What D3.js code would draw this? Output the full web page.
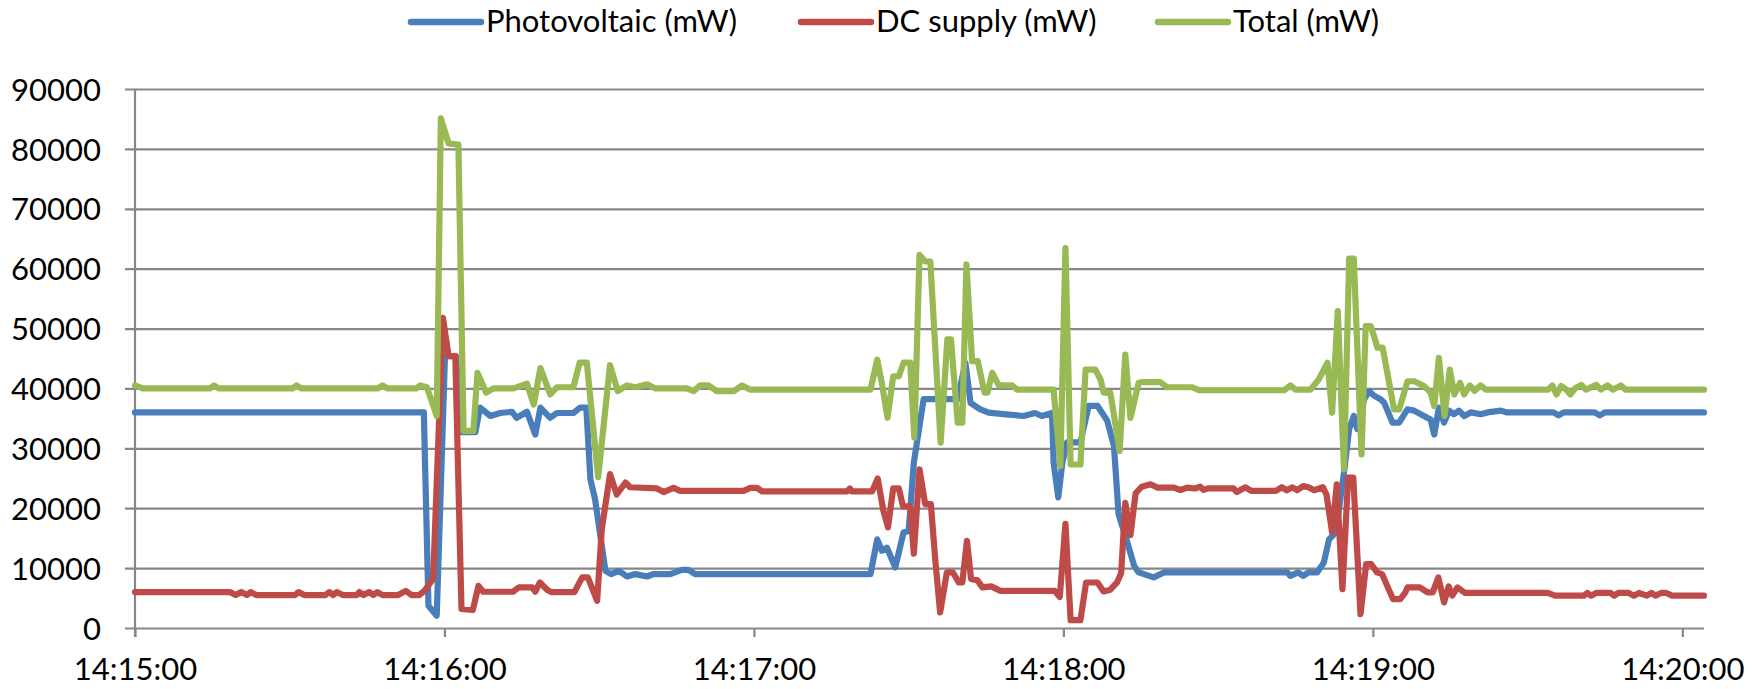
<!DOCTYPE html>
<html>
<head>
<meta charset="utf-8">
<script src="https://cdn.jsdelivr.net/npm/d3@7/dist/d3.min.js"></script>
<style>
  html, body { margin: 0; padding: 0; background: #fff; }
  svg { display: block; }
  text { font-family: Lato, "Open Sans", sans-serif; fill: #000; }
</style>
</head>
<body>
<svg id="chart" width="1764" height="689"></svg>
<script>
// ---- DATA (time in seconds after 14:15:00, value in mW) ----
const seriesNames = ["Photovoltaic (mW)", "DC supply (mW)", "Total (mW)"];
const seriesColors = ["#4a7ebb", "#be4b48", "#98b954"];
const xTickLabels = ["14:15:00", "14:16:00", "14:17:00", "14:18:00", "14:19:00", "14:20:00"];
const yTickValues = [0, 10000, 20000, 30000, 40000, 50000, 60000, 70000, 80000, 90000];
const timeEnd = 304.2;

const photovoltaic = [[0,36000],[56.0,36000],[56.9,3700],[58.5,2050],[60.1,45400],[62.2,45400],[63.4,32700],[66.0,32700],[66.9,36800],[68.9,35400],[70.8,35900],[73.1,36100],[74.0,35100],[76.0,36100],[77.6,32300],[78.6,36800],[80.5,35100],[81.8,35900],[85.0,35900],[86.3,36800],[87.5,36800],[88.3,24800],[89.2,21500],[91.2,9550],[92.3,9000],[93.8,9550],[95.4,8600],[97.0,9000],[99.3,8600],[100.5,9000],[103.8,9000],[106.0,9700],[107.3,9700],[108.6,9000],[142.6,9000],[143.9,14800],[144.8,12900],[145.8,13400],[147.4,10100],[149.0,15950],[150.0,16200],[151.0,27600],[152.0,33200],[152.9,38200],[154.2,38200],[159.5,38200],[161.0,44300],[162.0,37600],[163.9,36500],[165.5,35950],[168.4,35700],[172.3,35400],[174.5,35900],[175.8,35400],[177.8,35900],[178.1,27600],[179.0,21800],[179.8,27600],[180.7,31000],[183.3,31000],[184.9,37100],[186.6,37100],[188.5,34600],[189.8,30400],[190.7,19000],[192.4,14300],[193.7,10400],[194.6,9280],[197.5,8450],[199.5,9280],[223.4,9280],[224.0,8700],[225.5,9280],[226.5,8700],[227.5,9280],[229.2,9280],[230.5,10950],[231.5,14800],[232.8,15950],[234.4,25950],[235.4,33200],[236.3,35400],[237.0,33200],[238.3,38200],[239.3,39550],[240.2,38800],[241.5,38200],[242.2,37600],[243.8,34300],[245.1,34300],[246.7,36500],[248.0,36300],[249.9,35400],[251.2,34800],[251.9,32300],[252.8,36800],[253.8,34300],[254.8,36300],[255.7,35700],[256.7,36300],[257.7,35400],[259.0,36000],[260.9,35700],[262.2,36000],[264.8,36300],[266.0,36000],[275.0,36000],[276.0,35500],[277.0,36000],[283.0,36000],[284.0,35500],[285.0,36000],[304.2,36000]];

const dcSupply = [[0,6000],[18.4,6000],[19.5,5500],[20.6,6000],[21.7,5500],[22.4,6000],[23.5,5500],[31.0,5500],[31.7,6000],[32.8,5500],[36.9,5500],[37.7,6000],[38.4,5500],[39.1,6000],[40.3,5500],[43.0,5500],[43.5,6000],[44.3,5500],[45.4,6000],[46.2,5500],[47.0,6000],[48.0,5500],[51.0,5500],[52.5,6200],[53.6,5500],[55.1,5500],[56.2,6300],[57.8,8200],[59.7,51800],[60.8,45400],[62.1,45400],[63.3,3200],[65.5,3000],[66.6,7050],[67.5,6050],[73.3,6050],[74.4,6780],[77.0,6780],[77.6,6050],[78.5,7600],[80.0,6300],[80.7,6000],[85.2,6000],[86.7,8450],[87.8,8450],[89.6,4550],[90.5,16500],[92.1,25700],[93.4,22300],[95.1,24300],[96.0,23500],[101.2,23300],[102.5,22700],[104.4,23400],[105.7,22900],[118.0,22900],[119.3,23400],[120.6,23400],[121.6,22800],[138.0,22800],[138.6,23300],[139.0,22800],[142.9,22800],[144.0,24950],[145.1,19550],[146.0,16800],[147.0,23300],[148.1,23300],[148.9,20300],[150.3,20300],[151.0,12400],[152.1,26500],[153.2,20700],[154.3,20700],[155.2,10950],[156.1,2600],[157.4,9280],[158.6,9280],[159.7,7600],[160.4,7600],[161.3,14550],[162.1,8200],[163.3,8000],[164.3,6780],[166.0,6950],[167.8,6200],[178.3,6200],[179.3,5200],[180.4,17400],[181.4,1300],[183.3,1300],[184.4,7600],[186.6,7600],[187.8,6100],[189.1,6400],[190.4,7600],[191.2,9200],[192.0,20900],[193.0,15500],[194.0,22500],[195.2,23600],[196.9,24000],[198.2,23450],[201.4,23450],[202.7,23050],[204.0,23450],[205.5,23300],[206.5,23600],[207.2,23050],[208.0,23300],[213.0,23300],[213.6,22700],[215.3,23500],[216.4,22900],[221.2,22900],[222.3,23500],[223.3,23000],[224.4,23500],[225.3,23000],[226.5,23700],[227.5,23500],[228.6,23000],[230.3,23500],[231.0,22300],[232.1,15950],[233.0,24000],[234.1,6500],[235.2,25100],[236.2,25100],[237.6,2300],[238.7,10650],[239.7,10650],[240.8,9280],[241.8,9000],[242.9,6780],[243.9,4830],[245.3,4830],[246.3,5950],[246.7,6780],[249.1,6780],[250.6,5950],[251.6,5950],[252.7,8450],[253.8,4280],[254.7,6950],[255.4,5400],[256.4,6780],[257.9,5850],[273.9,5850],[275.3,5400],[280.9,5400],[281.6,5850],[282.3,5400],[283.3,5850],[286.1,5850],[286.8,5400],[287.6,5850],[289.6,5850],[290.6,5400],[291.6,5850],[293.1,5400],[294.0,5850],[294.8,5400],[295.9,5850],[296.9,5850],[298.0,5400],[304.2,5400]];

const total = [[0,40500],[1.5,40000],[14.5,40000],[15.3,40500],[16.2,40000],[30.5,40000],[31.3,40500],[32.2,40000],[47.0,40000],[48.0,40500],[49.0,40000],[54.5,40000],[55.3,40500],[56.6,40200],[58.5,35400],[59.3,85100],[60.8,80900],[62.7,80700],[63.7,32900],[65.6,32900],[66.4,42600],[68.1,39300],[69.5,40000],[73.4,40000],[76.0,40800],[77.3,37300],[78.6,43400],[80.5,39000],[81.8,40200],[85.0,40200],[86.2,44300],[87.6,44300],[89.8,25200],[92.1,43900],[93.6,39550],[95.4,40500],[97.0,40200],[99.3,40700],[100.9,40000],[107.0,40000],[108.3,39550],[109.6,40500],[111.2,40500],[112.8,39550],[116.1,39550],[117.7,40500],[119.3,39800],[142.6,39800],[143.9,44800],[144.8,40900],[145.9,35100],[147.0,42000],[148.1,42050],[149.0,44300],[150.3,44300],[151.1,31800],[152.1,62300],[153.2,61200],[154.2,61200],[156.2,30950],[157.5,48200],[158.2,48200],[159.5,34300],[160.4,34300],[161.2,60700],[162.3,44550],[163.4,44550],[164.7,39300],[165.3,39300],[166.2,42600],[167.5,40500],[170.1,40500],[171.0,39800],[178.1,39800],[179.4,27050],[180.4,63450],[181.4,27300],[183.3,27300],[184.3,43150],[186.2,43150],[187.2,41500],[187.8,39300],[189.1,39300],[190.9,29550],[192.0,45650],[193.0,35100],[194.6,40950],[195.3,41050],[198.8,41050],[200.1,40200],[205.0,40200],[206.3,39700],[222.8,39700],[224.0,40500],[225.0,39800],[227.9,39800],[229.5,41500],[231.2,44300],[232.1,35950],[233.2,52900],[234.4,26500],[235.4,61700],[236.3,61700],[237.8,29000],[238.6,50400],[239.6,50400],[240.9,46800],[241.9,46800],[244.1,36500],[245.1,36500],[246.7,41200],[248.0,41200],[249.9,40400],[251.2,39300],[251.9,37050],[252.8,45100],[253.9,35400],[254.9,43150],[255.8,39000],[256.9,40950],[257.7,39000],[258.8,40500],[259.7,39600],[260.9,40500],[261.9,39800],[274.0,39800],[274.8,40500],[275.6,39000],[276.5,40400],[277.5,39800],[278.3,39000],[279.2,40000],[280.4,40600],[281.3,39800],[283.3,40600],[284.2,39800],[285.5,40500],[286.5,39800],[288.1,40500],[289.0,39800],[304.2,39800]];

// ---- CHART ----
const svg = d3.select("#chart");
const plot = { left: 135, right: 1704, top: 89, bottom: 628 };
const gridColor = "#878787";

const x = d3.scaleLinear().domain([0, timeEnd]).range([plot.left, plot.right]);
const y = d3.scaleLinear().domain([0, 90000]).range([plot.bottom, plot.top]);

svg.append("rect").attr("width", 1764).attr("height", 689).attr("fill", "#fff");

// horizontal gridlines with outer ticks
const yAxis = d3.axisLeft(y).tickValues(yTickValues)
  .tickSize(-(plot.right - plot.left)).tickSizeOuter(0).tickPadding(0).tickFormat(d => d);
const gy = svg.append("g").attr("transform", `translate(${plot.left},0)`).call(yAxis);
gy.select(".domain").remove();
gy.selectAll(".tick line").attr("x1", -10).attr("stroke", gridColor).attr("stroke-width", 2.2);
gy.selectAll(".tick text").attr("x", -34).attr("font-size", 31).attr("dy", "0.36em")
  .attr("font-family", "Lato, sans-serif").attr("fill", "#000");

// x axis ticks
const xTickVals = xTickLabels.map((d, i) => i * 60);
const xAxis = d3.axisBottom(x).tickValues(xTickVals).tickSize(9).tickSizeOuter(0)
  .tickFormat((d, i) => xTickLabels[i]);
const gx = svg.append("g").attr("transform", `translate(0,${plot.bottom})`).call(xAxis);
gx.select(".domain").remove();
gx.selectAll(".tick line").attr("stroke", gridColor).attr("stroke-width", 2.2);
gx.selectAll(".tick text").attr("y", 52).attr("dy", 0).attr("font-size", 31)
  .attr("font-family", "Lato, sans-serif").attr("fill", "#000");

// vertical axis line
svg.append("line").attr("x1", plot.left).attr("x2", plot.left)
  .attr("y1", plot.top).attr("y2", plot.bottom + 9)
  .attr("stroke", gridColor).attr("stroke-width", 2.2);

// series lines
const line = d3.line().x(d => x(d[0])).y(d => y(d[1]));
const allSeries = [photovoltaic, dcSupply, total];
allSeries.forEach((s, i) => {
  svg.append("path").datum(s).attr("d", line)
    .attr("fill", "none").attr("stroke", seriesColors[i])
    .attr("stroke-width", 6.2).attr("stroke-linejoin", "round").attr("stroke-linecap", "round");
});

// legend
const legendX = [411, 801, 1158];
const legend = svg.append("g");
seriesNames.forEach((name, i) => {
  legend.append("line").attr("x1", legendX[i]).attr("x2", legendX[i] + 70)
    .attr("y1", 22).attr("y2", 22).attr("stroke", seriesColors[i])
    .attr("stroke-width", 6.5).attr("stroke-linecap", "round");
  legend.append("text").attr("x", legendX[i] + 75).attr("y", 32)
    .attr("font-size", 31).text(name);
});
</script>
</body>
</html>
